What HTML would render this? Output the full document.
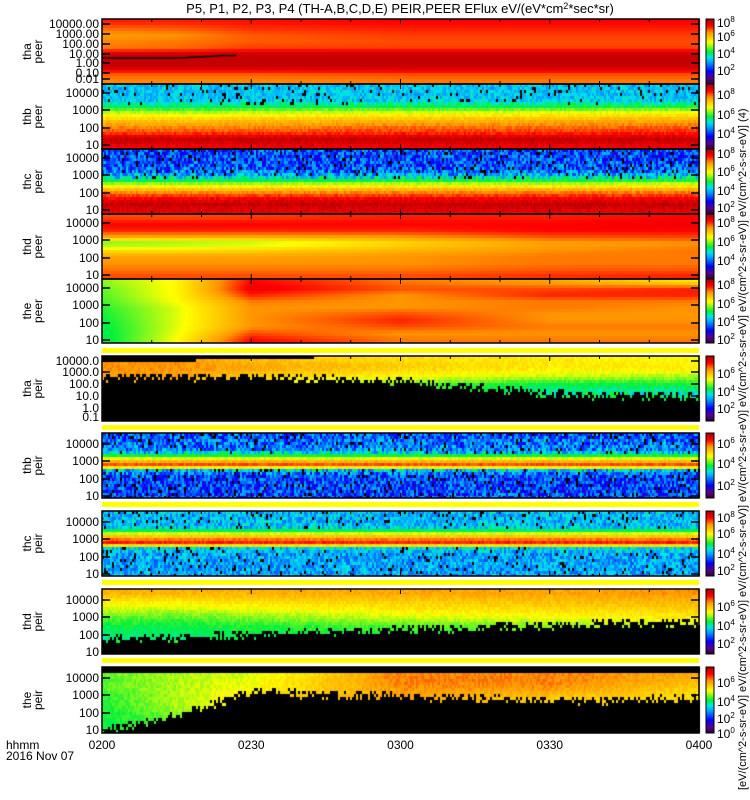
<!DOCTYPE html>
<html><head><meta charset="utf-8"><style>
body{margin:0;background:#fff;width:750px;height:800px;overflow:hidden}
#wrap{position:relative;width:750px;height:800px}
canvas,svg{position:absolute;left:0;top:0}
text{font-family:"Liberation Sans",sans-serif;fill:#000}
</style></head><body>
<div id="wrap">
<canvas id="cv" width="750" height="800"></canvas>
<svg id="sv" width="750" height="800"></svg>
</div>
<script>
// ---- data ----
const knotMinutes = [0, 15, 30, 60, 90, 120];
const timeTickMinutes = [0, 30, 60, 90, 120];
const timeTickLabels = ["0200", "0230", "0300", "0330", "0400"];
const panelNames = ["tha peer","thb peer","thc peer","thd peer","the peer","tha peir","thb peir","thc peir","thd peir","the peir"];
const thaPeerGrid = [
 [.88,.88,.89,.9,.9,.9],[.83,.84,.87,.88,.88,.88],[.79,.8,.84,.86,.86,.86],[.81,.82,.84,.85,.85,.85],
 [.82,.83,.86,.86,.86,.86],[.97,.97,.97,.97,.97,.97],[.97,.97,.97,.97,.97,.97],[.96,.96,.96,.96,.96,.96],
 [.84,.84,.84,.85,.85,.85],[.81,.81,.81,.82,.82,.82]];
const thbPeerGrid = [
 [.38,.38,.38,.38,.38,.38],[.38,.38,.38,.38,.38,.38],[.39,.39,.39,.39,.39,.39],[.48,.48,.49,.5,.5,.52],
 [.62,.62,.63,.64,.65,.66],[.72,.72,.73,.74,.75,.76],[.8,.8,.8,.82,.82,.83],[.86,.86,.86,.87,.87,.88],
 [.97,.97,.97,.97,.97,.97],[.92,.92,.92,.92,.92,.92]];
const thcPeerGrid = [
 [.26,.26,.26,.26,.26,.26],[.26,.26,.26,.26,.26,.26],[.27,.27,.27,.27,.27,.27],[.3,.3,.3,.3,.3,.3],
 [.43,.43,.43,.44,.44,.45],[.62,.62,.63,.64,.64,.65],[.78,.78,.78,.79,.8,.8],[.9,.9,.9,.9,.9,.9],
 [.97,.97,.97,.97,.97,.97],[.93,.93,.93,.93,.93,.93]];
const thdPeerGrid = [
 [.85,.85,.86,.88,.88,.9],[.9,.9,.9,.9,.9,.92],[.88,.88,.88,.88,.9,.9],[.78,.78,.78,.8,.85,.86],
 [.56,.58,.6,.7,.78,.8],[.68,.68,.7,.75,.8,.82],[.78,.78,.78,.8,.82,.82],[.8,.8,.8,.8,.82,.82],
 [.82,.82,.82,.82,.84,.84],[.85,.85,.85,.85,.87,.88]];
const thePeerGrid = [
 [.58,.66,.9,.82,.78,.68],[.56,.66,.92,.85,.85,.88],[.55,.66,.88,.8,.88,.88],[.54,.65,.82,.8,.82,.82],
 [.52,.63,.8,.8,.82,.8],[.51,.63,.8,.85,.8,.8],[.5,.63,.8,.88,.8,.8],[.49,.63,.8,.85,.82,.82],
 [.48,.64,.85,.8,.8,.8],[.48,.65,.9,.82,.82,.82]];
const thaPeirGrid = [
 [.78,.8,.75,.7,.68,.65],[.8,.8,.78,.72,.68,.68],[.78,.78,.72,.66,.62,.6],[.7,.68,.62,.55,.5,.5],
 [.6,.6,.55,.5,.45,.45],[.5,.5,.5,.45,.42,.42],[.5,.5,.5,.45,.42,.42],[.5,.5,.5,.45,.42,.42]];
const thaPeirBlackTop = [.08,.08,.04,0,0,0];
const thaPeirBlackStart = [.34,.34,.34,.41,.6,.65];
const thbPeirGrid = [
 [.28,.28,.28,.28,.28,.28],[.3,.3,.3,.3,.3,.3],[.3,.3,.3,.3,.3,.3],[.33,.33,.33,.33,.33,.33],
 [.5,.5,.5,.5,.5,.5],[.72,.72,.72,.72,.72,.72],[.88,.88,.88,.88,.88,.88],[.38,.38,.38,.38,.38,.38],
 [.26,.26,.26,.26,.26,.26],[.26,.26,.26,.26,.26,.26],[.26,.26,.26,.26,.26,.26],[.26,.26,.26,.26,.26,.26],[.26,.26,.26,.26,.26,.26]];
const thcPeirGrid = [
 [.37,.37,.37,.37,.37,.37],[.37,.37,.37,.37,.37,.37],[.37,.37,.37,.37,.37,.37],[.4,.4,.4,.4,.4,.4],
 [.62,.62,.62,.62,.62,.62],[.8,.8,.8,.8,.8,.8],[.9,.9,.9,.9,.9,.9],[.4,.4,.4,.4,.4,.4],
 [.35,.35,.35,.35,.35,.35],[.35,.35,.35,.35,.35,.35],[.35,.35,.35,.35,.35,.35],[.35,.35,.35,.35,.35,.35],[.35,.35,.35,.35,.35,.35]];
const thdPeirGrid = [
 [.76,.76,.76,.78,.78,.8],[.68,.68,.7,.72,.74,.76],[.62,.62,.64,.68,.7,.72],[.55,.55,.58,.62,.65,.68],
 [.5,.5,.52,.55,.58,.6],[.48,.48,.5,.5,.52,.55],[.45,.45,.46,.48,.5,.5],[.44,.44,.44,.46,.48,.48]];
const thdPeirBlackStart = [.8,.77,.72,.65,.58,.52];
const thePeirGrid = [
 [.55,.6,.62,.8,.8,.78],[.55,.6,.64,.82,.82,.76],[.55,.6,.65,.8,.8,.72],[.52,.6,.68,.78,.74,.7],
 [.52,.6,.66,.74,.7,.68],[.5,.58,.64,.68,.66,.66],[.5,.55,.6,.6,.6,.6],[.5,.55,.6,.6,.6,.6]];
const thePeirBlackTop = [.09,.09,.09,.08,.08,.08];
const thePeirBlackStart = [1.0,.76,.4,.47,.53,.5];
const scLineMinutes = [0, 8, 16, 18, 20, 22, 24, 27];
const scLineValues = [2.2, 2.2, 2.2, 2.6, 3.0, 3.5, 4.0, 4.2];

// ---- layout ----
const X0 = 102, X1 = 699;
const panelTops = [19,84,149,214,279,356,433,511,589,667];
const panelBottoms = [84,149,214,279,343,421,498,576,654,733];
const grids = [thaPeerGrid,thbPeerGrid,thcPeerGrid,thdPeerGrid,thePeerGrid,thaPeirGrid,thbPeirGrid,thcPeirGrid,thdPeirGrid,thePeirGrid];
const blackTops = [null,null,null,null,null,thaPeirBlackTop,null,null,null,thePeirBlackTop];
const blackStarts = [null,null,null,null,null,thaPeirBlackStart,null,null,thdPeirBlackStart,thePeirBlackStart];
const noiseAmp = [0,0.12,0.22,0,0,0.2,0.22,0.16,0.2,0.2];

const cstops = [[0,[40,0,50]],[.1,[90,0,140]],[.2,[0,0,255]],[.35,[0,170,255]],[.42,[0,230,230]],[.5,[0,240,60]],[.65,[255,255,0]],[.8,[255,150,0]],[.9,[255,0,0]],[1,[170,0,0]]];
function cmap(v){v=Math.max(0,Math.min(1,v));for(let i=1;i<cstops.length;i++){if(v<=cstops[i][0]){const a=cstops[i-1],b=cstops[i];const f=(v-a[0])/(b[0]-a[0]);return [0,1,2].map(k=>Math.round(a[1][k]+(b[1][k]-a[1][k])*f));}}return cstops[cstops.length-1][1];}
function tx(m){return X0+(X1-X0)*m/120;}
function interpT(arr,m){for(let i=1;i<knotMinutes.length;i++){if(m<=knotMinutes[i]){const f=(m-knotMinutes[i-1])/(knotMinutes[i]-knotMinutes[i-1]);return arr[i-1]+(arr[i]-arr[i-1])*f;}}return arr[arr.length-1];}
function hash(a,b,c){let h=(a*374761393+b*668265263+c*2147483647)|0;h=(h^(h>>>13))*1274126177|0;h=h^(h>>>16);return ((h>>>0)%10000)/10000;}

const cv=document.getElementById('cv');const ctx=cv.getContext('2d');
ctx.fillStyle='#fff';ctx.fillRect(0,0,750,800);
[348,425,502,580,658].forEach(y=>{ctx.fillStyle='#ffff00';ctx.fillRect(X0,y,X1-X0,5);});
for(let p=0;p<10;p++){
 const top=panelTops[p],h=panelBottoms[p]-top,g=grids[p],nr=g.length;
 for(let x=X0;x<X1;x+=2){
  const m=(x-X0+1)/(X1-X0)*120;
  const rowVals=g.map(r=>interpT(r,m));
  const bt=blackTops[p]?interpT(blackTops[p],m):-1;
  const bs=blackStarts[p]?interpT(blackStarts[p],m):2;
  for(let y=0;y<h;y+=3){
   const f=(y+1.5)/h;
   const rf=f*nr-0.5;const i0=Math.max(0,Math.min(nr-1,Math.floor(rf)));const i1=Math.min(nr-1,i0+1);
   const w=Math.max(0,Math.min(1,rf-i0));
   let v=rowVals[i0]*(1-w)+rowVals[i1]*w;
   const h1=hash(x,y,p),h2=hash(y,x,p+7);
   let black=false;
   if(f<bt) black=true;
   if(bs<1.5){const jb=bs+(h1-0.5)*0.12; if(f>jb) black=true; else if(f>bs-0.08 && h2<0.3) black=true;}
   const na=noiseAmp[p];
   if(na>0 && v<0.46){v+=(h1-0.5)*na; if(h2<0.07) black=true;}
   else if(na>0){v+=(h1-0.5)*0.05;}
   const c=black?[0,0,0]:cmap(v);
   ctx.fillStyle='rgb('+c[0]+','+c[1]+','+c[2]+')';
   ctx.fillRect(x,top+y,2,Math.min(3,h-y));
  }
 }
 for(let y=top;y<panelBottoms[p];y++){const c=cmap(1-(y-top)/h);ctx.fillStyle='rgb('+c+')';ctx.fillRect(706,y,8,1);}
}
ctx.strokeStyle='#000';ctx.lineWidth=1.5;ctx.beginPath();
scLineMinutes.forEach((m,i)=>{const y=24+(4-Math.log10(scLineValues[i]))*9.3;if(i===0)ctx.moveTo(tx(m),y);else ctx.lineTo(tx(m),y);});
ctx.stroke();

// ---- SVG overlay ----
const sv=document.getElementById('sv');const NS='http://www.w3.org/2000/svg';
function el(tag,attrs,txt){const e=document.createElementNS(NS,tag);for(const k in attrs)e.setAttribute(k,attrs[k]);if(txt!=null)e.textContent=txt;sv.appendChild(e);return e;}
const title=el('text',{x:400,y:13,'font-size':13,'text-anchor':'middle'},'P5, P1, P2, P3, P4 (TH-A,B,C,D,E) PEIR,PEER EFlux eV/(eV*cm');


const ts=document.createElementNS(NS,'tspan');ts.setAttribute('dy','-4');ts.setAttribute('font-size','9');ts.textContent='2';title.appendChild(ts);
const ts2=document.createElementNS(NS,'tspan');ts2.setAttribute('dy','4');ts2.textContent='*sec*sr)';title.appendChild(ts2);

const yLabelSets=[
 [["10000.00",24],["1000.00",34],["100.00",44],["10.00",54],["1.00",63],["0.10",73],["0.01",79]],
 null,null,null,null,
 [["10000.0",5],["1000.0",16],["100.0",28],["10.0",40],["1.0",52],["0.1",61]],
 null,null,null,null];
const stdLabels=[["10000",9],["1000",26],["100",44],["10",61]];
const cbLabels=[[["8",3],["6",17],["4",34],["2",51]],[["8",10],["6",30],["4",49]],[["8",4],["6",22],["4",41],["2",58]],[["8",8],["6",27],["4",46]],[["8",5],["6",24],["4",42],["2",60]],
 [["6",17],["4",35],["2",52]],[["6",10],["4",30],["2",52]],[["8",6],["6",22],["4",42],["2",59]],[["6",17],["4",36],["2",54]],[["6",15],["4",34],["2",51],["0",66]]];
for(let p=0;p<10;p++){
 const top=panelTops[p],bot=panelBottoms[p],h=bot-top;
 const fr=el('rect',{x:X0,y:top,width:X1-X0,height:h,fill:'none',stroke:'#000','stroke-width':1.5});
 
 
 for(let m=0;m<=120;m+=10){const major=timeTickMinutes.includes(m);const L=major?5:3;
  el('line',{x1:tx(m),x2:tx(m),y1:bot,y2:bot-L,stroke:'#000','stroke-width':1});
  el('line',{x1:tx(m),x2:tx(m),y1:top,y2:top+L,stroke:'#000','stroke-width':1});}
 const labs=p===0?yLabelSets[0].map(a=>[a[0],a[1]-top]):(yLabelSets[p]||stdLabels.map(a=>[a[0],p>=6?a[1]+2:a[1]]));
 labs.forEach(l=>{
  const t=el('text',{x:99,y:top+l[1]+4,'font-size':12,'text-anchor':'end'},l[0]);
  
  
  el('line',{x1:X0,x2:X0+8,y1:top+l[1],y2:top+l[1],stroke:'#000','stroke-width':1.5});
  el('line',{x1:X1,x2:X1-8,y1:top+l[1],y2:top+l[1],stroke:'#000','stroke-width':1.5});
 });
 const nm=panelNames[p].split(' ');const cy=(top+bot)/2;
 const yt=el('text',{x:0,y:0,'font-size':12,'text-anchor':'middle',transform:'translate(31,'+cy+') rotate(-90)'},nm[0]);
 
 
 const yt2=el('text',{x:0,y:0,'font-size':12,'text-anchor':'middle',transform:'translate(42,'+cy+') rotate(-90)'},nm[1]);
 
 
 const cb=el('rect',{x:706,y:top,width:8,height:h,fill:'none',stroke:'#000','stroke-width':1});
 
 
 cbLabels[p].forEach(c=>{const t=el('text',{x:717,y:top+c[1]+5,'font-size':12},'10');
  const s=document.createElementNS(NS,'tspan');s.setAttribute('dy','-5');s.setAttribute('font-size','8');s.textContent=c[0];t.appendChild(s);
  
  });
}
timeTickMinutes.forEach((m,i)=>{const t=el('text',{x:tx(m),y:749,'font-size':12,'text-anchor':'middle'},timeTickLabels[i]);
 
 });
const hh=el('text',{x:6,y:749,'font-size':12},'hhmm');


const dt=el('text',{x:6,y:760,'font-size':12},'2016 Nov 07');


const unit=el('text',{x:0,y:0,'font-size':11,'text-anchor':'start',transform:'translate(746,790) rotate(-90)'},'[eV/(cm^2-s-sr-eV)] eV/(cm^2-s-sr-eV)] eV/(cm^2-s-sr-eV)] eV/(cm^2-s-sr-eV)] eV/(cm^2-s-sr-eV)] eV/(cm^2-s-sr-eV)] eV/(cm^2-s-sr-eV)] (4)');


</script>
</body></html>
